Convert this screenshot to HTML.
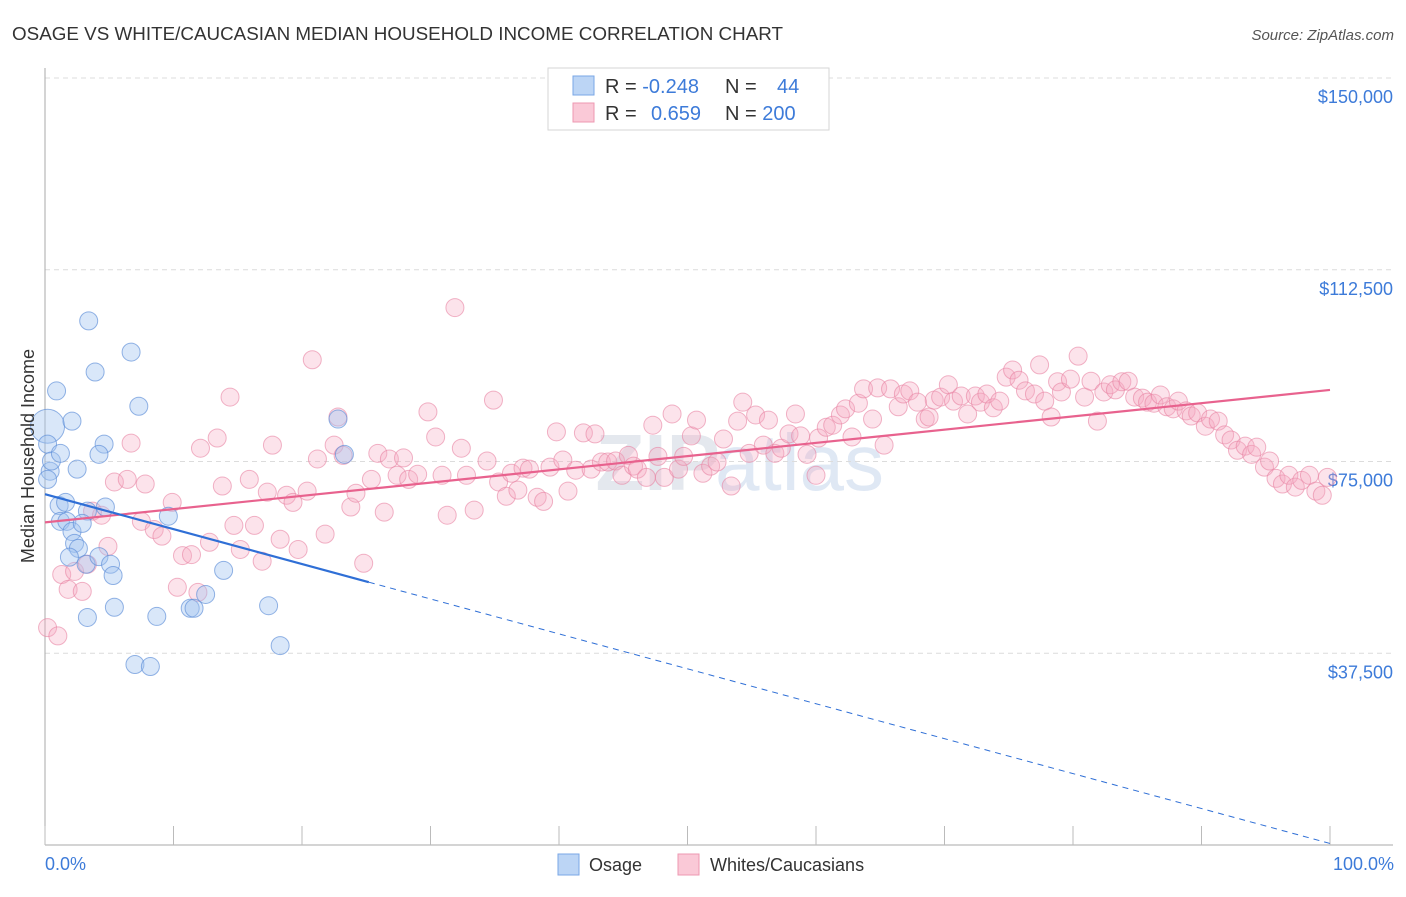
<!DOCTYPE html>
<html><head><meta charset="utf-8"><style>
body{margin:0;background:#fff;font-family:"Liberation Sans",sans-serif;}
</style></head><body>
<svg id="c" width="1406" height="892" viewBox="0 0 1406 892" xmlns="http://www.w3.org/2000/svg">
<text x="12" y="40" font-size="18" fill="#333" textLength="771" lengthAdjust="spacingAndGlyphs">OSAGE VS WHITE/CAUCASIAN MEDIAN HOUSEHOLD INCOME CORRELATION CHART</text>
<text x="1394" y="40" font-size="15" fill="#555" font-style="italic" text-anchor="end">Source: ZipAtlas.com</text>
<text x="720" y="490" font-size="80" font-weight="bold" fill="#e4e8ee" text-anchor="end">ZIP</text>
<text x="715" y="490" font-size="80" fill="#dfe8f4">atlas</text>
<g id="grid"></g>
<g id="axes"></g>
<g id="pts"></g>
<g id="lines"></g>
<text transform="translate(34,456) rotate(-90)" font-size="18" fill="#333" text-anchor="middle">Median Household Income</text>
<text x="45" y="870" font-size="18" fill="#3d7bd9">0.0%</text>
<text x="1394" y="870" font-size="18" fill="#3d7bd9" text-anchor="end">100.0%</text>
<g>
<rect x="558" y="854" width="21" height="21" fill="#bcd5f5" stroke="#7aa7e6"/>
<text x="589" y="871" font-size="18" fill="#333">Osage</text>
<rect x="678" y="854" width="21" height="21" fill="#fac9d7" stroke="#ee98b2"/>
<text x="710" y="871" font-size="18" fill="#333">Whites/Caucasians</text>
</g>
<g>
<rect x="548" y="68" width="281" height="62" fill="#fff" stroke="#d6d6d6"/>
<rect x="573" y="76" width="21" height="19" fill="#bcd5f5" stroke="#7aa7e6"/>
<rect x="573" y="103" width="21" height="19" fill="#fac9d7" stroke="#ee98b2"/>
<text x="605" y="93" font-size="20" fill="#333">R = <tspan fill="#3d7bd9">-0.248</tspan></text>
<text x="725" y="93" font-size="20" fill="#333">N = <tspan fill="#3d7bd9" x="777">44</tspan></text>
<text x="605" y="120" font-size="20" fill="#333">R = <tspan fill="#3d7bd9" x="651">0.659</tspan></text>
<text x="725" y="120" font-size="20" fill="#333">N = <tspan fill="#3d7bd9">200</tspan></text>
</g>
</svg>
<script>
const yTicks=[37500,75000,112500,150000];
const yTickLabels=["$37,500","$75,000","$112,500","$150,000"];
const xTicks=[0,10,20,30,40,50,60,70,80,90,100];
const osageX=[0.2,0.2,0.4,0.5,1.2,2.1,0.9,3.4,3.9,6.7,7.3,4.6,4.2,2.5,1.1,1.6,3.3,4.7,1.2,1.7,2.1,2.9,2.3,2.6,1.9,3.2,4.2,5.1,5.3,9.6,13.9,5.4,3.3,8.7,11.3,11.6,12.5,17.4,18.3,7.0,8.2,22.8,23.3,0.2];
const osageY=[81.9,78.4,73.1,75.1,76.6,82.9,88.8,102.5,92.5,96.4,85.8,78.4,76.4,73.5,66.4,67.0,65.3,66.1,63.3,63.3,61.3,62.9,59.0,58.0,56.3,54.9,56.4,54.9,52.7,64.3,53.7,46.5,44.5,44.7,46.3,46.3,49.0,46.8,39.0,35.3,34.9,83.3,76.4,71.5];
const whiteX=[0.2,1.0,1.3,2.3,1.8,2.9,3.3,4.9,3.7,4.4,5.4,6.4,7.8,7.5,8.5,9.1,9.9,10.3,10.7,11.4,11.9,12.1,12.8,13.4,13.8,14.4,14.7,15.2,15.9,16.3,16.9,17.3,17.7,18.3,18.8,19.3,19.7,20.4,20.8,21.2,21.8,22.5,22.8,23.2,23.8,24.2,24.8,25.4,25.9,26.4,26.8,27.4,27.9,28.3,29.0,29.8,30.4,30.9,31.3,31.9,32.4,32.8,33.4,34.4,34.9,35.3,35.9,36.3,36.8,37.2,37.7,38.3,38.8,39.3,39.8,40.3,40.7,41.3,41.9,42.5,42.8,43.3,43.8,44.4,44.9,45.4,45.8,46.1,46.8,47.3,47.7,48.2,48.8,49.3,49.7,50.3,50.7,51.2,51.8,52.3,52.8,53.4,53.9,54.3,54.8,55.3,55.9,56.3,56.8,57.3,57.9,58.4,58.8,59.3,60.0,60.2,60.8,61.3,61.9,62.3,62.8,63.3,63.7,64.4,64.8,65.3,65.8,66.4,66.8,67.3,67.9,68.5,68.8,69.2,69.7,70.3,70.7,71.3,71.8,72.4,72.8,73.3,73.8,74.3,74.8,75.3,75.8,76.3,77.0,77.4,77.8,78.3,78.8,79.1,79.8,80.4,80.9,81.4,81.9,82.4,82.9,83.3,83.8,84.3,84.8,85.4,85.8,86.3,86.8,87.3,87.8,88.2,88.8,89.2,89.7,90.3,90.7,91.3,91.8,92.3,92.8,93.4,93.9,94.3,94.9,95.3,95.8,96.3,96.8,97.3,97.8,98.4,98.9,99.4,99.8,6.7];
const whiteY=[42.5,40.9,52.9,53.5,50.0,49.6,54.9,58.4,65.3,64.5,71.0,71.5,70.6,63.3,61.7,60.4,67.0,50.4,56.6,56.8,49.4,77.6,59.2,79.6,70.2,87.6,62.5,57.8,71.5,62.5,55.5,69.0,78.2,59.8,68.4,67.0,57.8,69.2,94.9,75.5,60.8,78.2,83.7,76.2,66.1,68.8,55.1,71.5,76.6,65.1,75.5,72.3,75.7,71.5,72.5,84.7,79.8,72.3,64.5,105.1,77.6,72.3,65.5,75.1,87.0,71.0,68.2,72.7,69.4,73.7,73.5,68.0,67.2,73.9,80.8,75.3,69.2,73.3,80.6,73.5,80.4,74.9,74.9,75.1,72.3,76.2,74.1,73.5,71.9,82.1,76.0,71.9,84.3,73.5,76.0,80.0,83.1,72.7,74.1,74.9,79.4,70.2,82.9,86.6,76.6,84.1,78.2,83.1,76.6,77.6,80.4,84.3,80.0,76.4,72.3,79.6,81.7,82.1,84.1,85.3,79.8,86.4,89.2,83.3,89.4,78.2,89.2,85.7,88.2,88.8,86.6,83.3,83.7,87.0,87.6,90.0,86.8,87.8,84.3,87.8,86.6,88.2,85.5,86.8,91.5,92.9,90.9,88.8,88.2,93.9,86.8,83.7,90.6,88.6,91.1,95.6,87.6,90.7,82.9,88.6,90.0,89.0,90.6,90.7,87.6,87.4,86.6,86.4,88.0,85.7,85.3,86.8,84.9,83.9,84.5,81.9,83.3,82.9,80.2,79.2,77.2,78.0,76.4,77.8,73.9,75.1,71.7,70.6,72.3,70.0,71.3,72.3,69.2,68.4,71.9,78.6];
const osageTrend=[[0,68.6],[25.2,51.4],[100,0.3]];
const whiteTrend=[[0,63.1],[100,89.0]];

const NS="http://www.w3.org/2000/svg";
const X0=45,X1=1330,Y0=845,YTOP=78;
const xs=p=>X0+(X1-X0)*p/100;
const ys=v=>Y0-(Y0-YTOP)*v/150000;
const yk=k=>ys(k*1000);
function mk(tag,attrs,parent){const e=document.createElementNS(NS,tag);for(const k in attrs)e.setAttribute(k,attrs[k]);parent.appendChild(e);return e;}
const grid=document.getElementById('grid'),axes=document.getElementById('axes'),pts=document.getElementById('pts'),lines=document.getElementById('lines');
yTicks.forEach((t,i)=>{
  const l=mk('line',{x1:X0,x2:1393,y1:ys(t),y2:ys(t),stroke:'#dcdcdc','stroke-dasharray':'5,4'},grid);
  
  
  const tx=mk('text',{x:1393,y:ys(t)+25,'font-size':18,fill:'#3d7bd9','text-anchor':'end'},grid);
  tx.textContent=yTickLabels[i];
  
  
});
const ya=mk('line',{x1:X0,x2:X0,y1:68,y2:Y0,stroke:'#aaa'},axes);


const xa=mk('line',{x1:X0,x2:1393,y1:Y0,y2:Y0,stroke:'#aaa'},axes);


xTicks.forEach(t=>{
  const tk=mk('line',{x1:xs(t),x2:xs(t),y1:Y0,y2:Y0-19,stroke:'#bbb'},axes);
  
  
});
whiteX.forEach((x,i)=>{
  const c=mk('circle',{cx:xs(x),cy:yk(whiteY[i]),r:9,fill:'rgba(246,170,193,0.33)',stroke:'rgba(232,130,162,0.6)','stroke-width':1},pts);
  
  
});
osageX.forEach((x,i)=>{
  const c=mk('circle',{cx:xs(x),cy:yk(osageY[i]),r:i===0?17:9,fill:'rgba(160,196,240,0.4)',stroke:'rgba(90,140,215,0.65)','stroke-width':1},pts);
  
  
});
const wl=mk('line',{x1:xs(whiteTrend[0][0]),y1:yk(whiteTrend[0][1]),x2:xs(whiteTrend[1][0]),y2:yk(whiteTrend[1][1]),stroke:'#e8628e','stroke-width':2.2},lines);


const ol=mk('line',{x1:xs(osageTrend[0][0]),y1:yk(osageTrend[0][1]),x2:xs(osageTrend[1][0]),y2:yk(osageTrend[1][1]),stroke:'#2f6fd6','stroke-width':2.2},lines);


const od=mk('line',{x1:xs(osageTrend[1][0]),y1:yk(osageTrend[1][1]),x2:xs(osageTrend[2][0]),y2:yk(osageTrend[2][1]),stroke:'#2f6fd6','stroke-width':1,'stroke-dasharray':'6,5'},lines);


</script>
</body></html>
